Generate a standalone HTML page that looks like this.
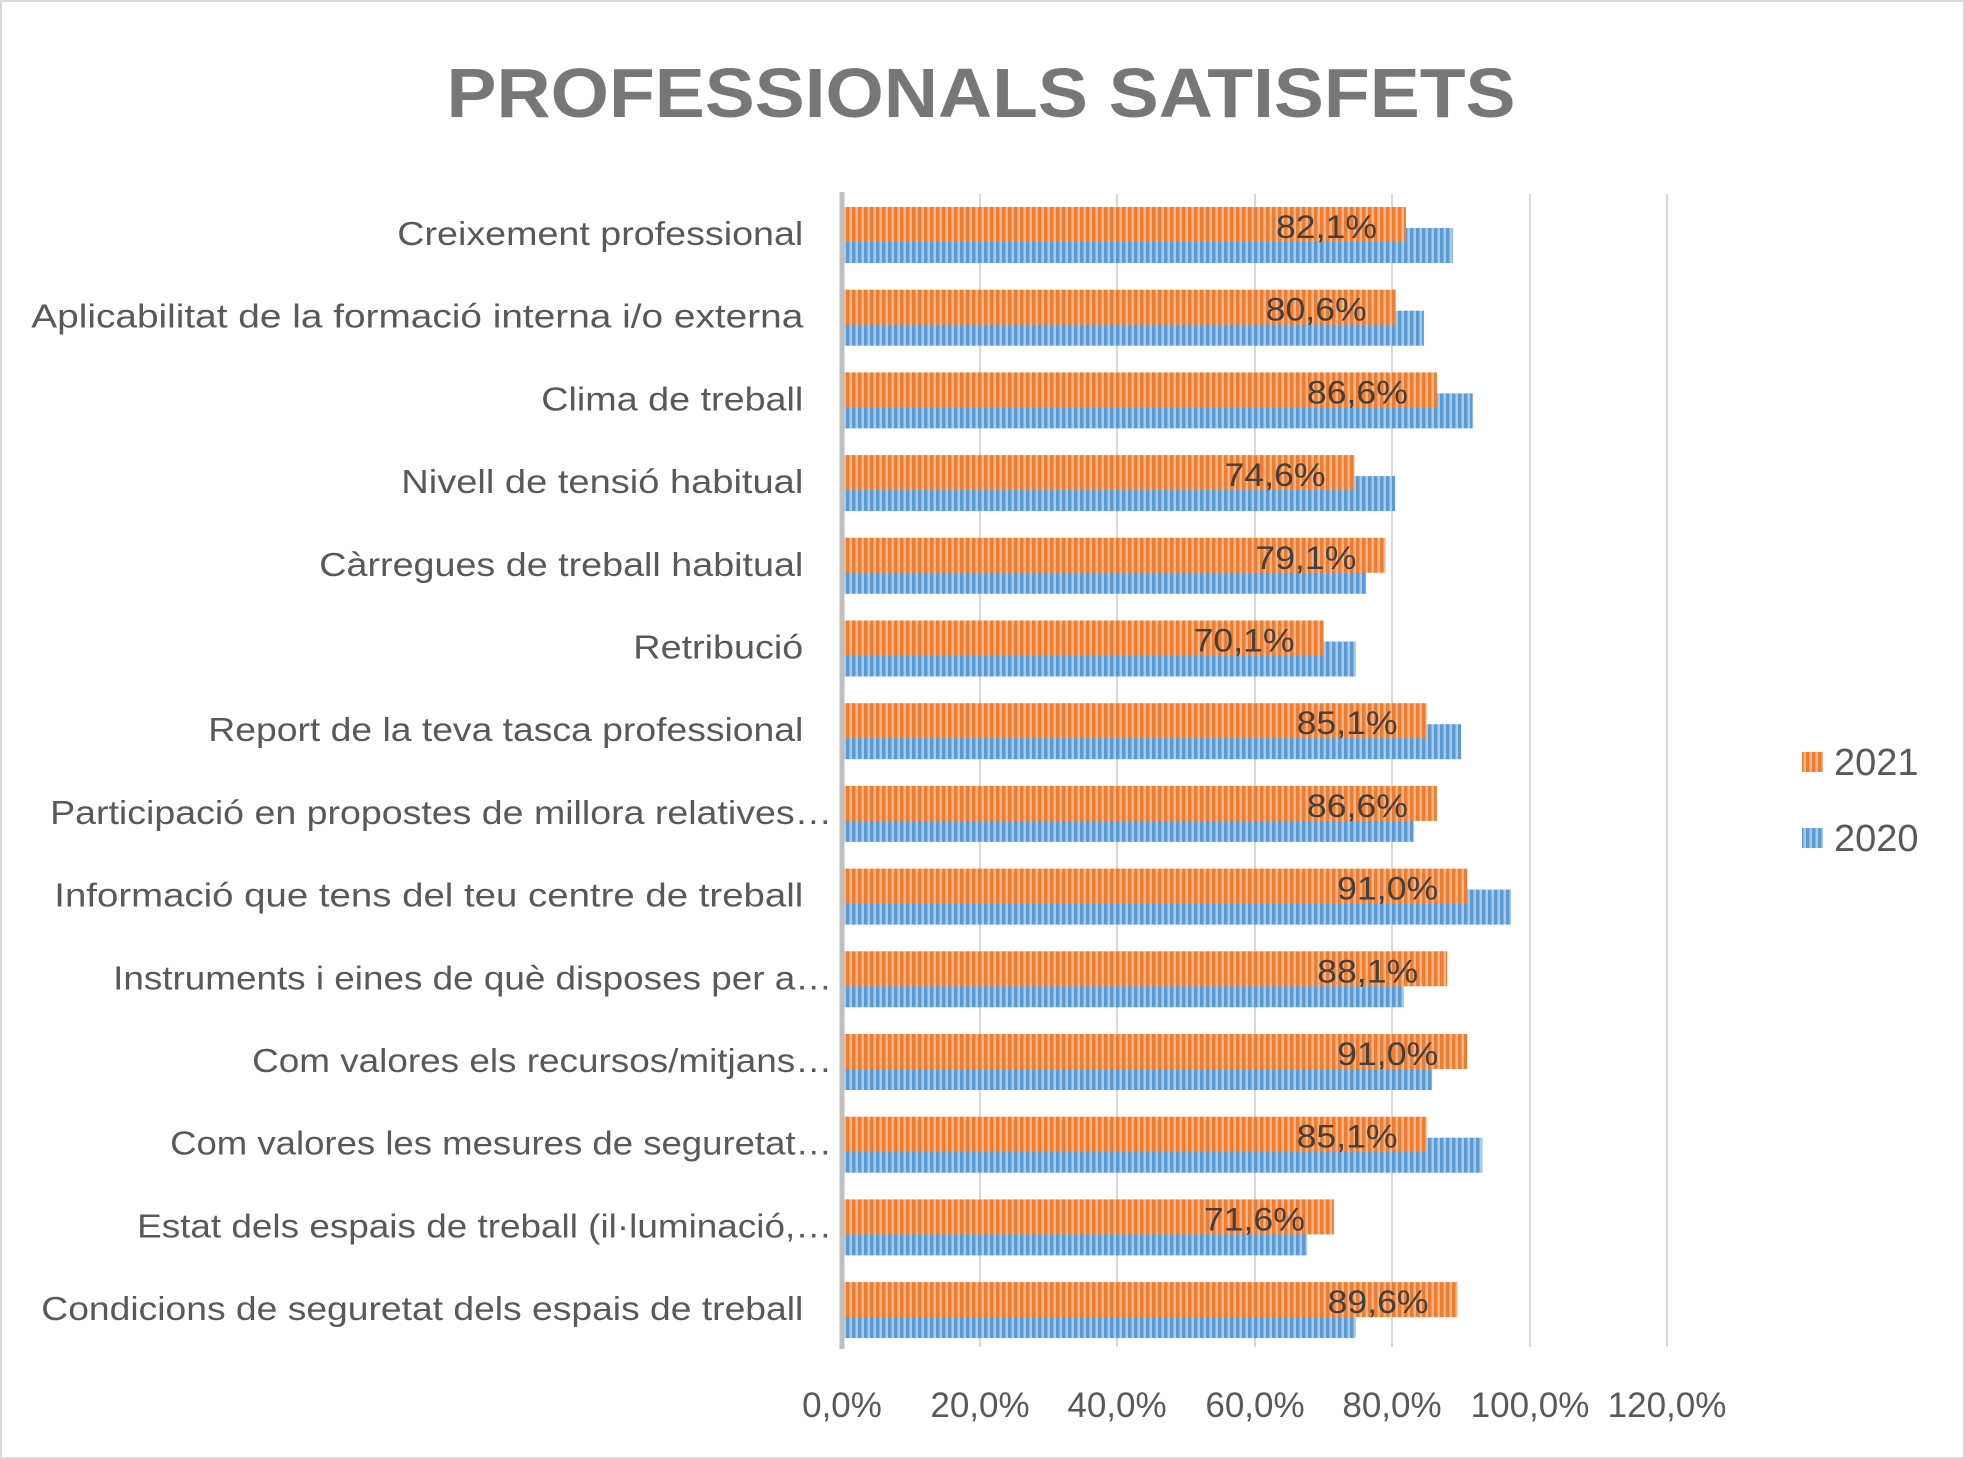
<!DOCTYPE html>
<html><head><meta charset="utf-8"><style>
html,body{margin:0;padding:0;background:#fff;}
svg{display:block;}
text{font-family:"Liberation Sans",sans-serif;fill:#595959;}
.v{font-size:32px;fill:#404040;text-anchor:end;}
.c{font-size:33px;text-anchor:end;}
</style></head><body>
<svg width="1965" height="1459" viewBox="0 0 1965 1459" xmlns="http://www.w3.org/2000/svg">
<defs>
<pattern id="po" width="6" height="10" patternUnits="userSpaceOnUse">
<rect width="6" height="10" fill="#f6b48a"/><rect width="3.5" height="10" fill="#ed7d31"/></pattern>
<pattern id="pb" width="6" height="10" patternUnits="userSpaceOnUse">
<rect width="6" height="10" fill="#a9cbea"/><rect width="3.5" height="10" fill="#5b9bd5"/></pattern>
</defs>
<rect x="1" y="1" width="1963" height="1457" fill="#fff" stroke="#d9d9d9" stroke-width="2"/>
<text x="981" y="117" font-size="70" font-weight="bold" text-anchor="middle" style="fill:#777" textLength="1069" lengthAdjust="spacingAndGlyphs">PROFESSIONALS SATISFETS</text>
<g stroke="#d9d9d9" stroke-width="2">
<line x1="980" y1="194" x2="980" y2="1347"/><line x1="1117" y1="194" x2="1117" y2="1347"/>
<line x1="1255" y1="194" x2="1255" y2="1347"/><line x1="1392" y1="194" x2="1392" y2="1347"/>
<line x1="1530" y1="194" x2="1530" y2="1347"/><line x1="1667" y1="194" x2="1667" y2="1347"/>
</g>
<g fill="url(#pb)">
<rect x="842" y="228" width="610.7" height="35"/>
<rect x="842" y="310.7" width="581.9" height="35"/>
<rect x="842" y="393.4" width="630.7" height="35"/>
<rect x="842" y="476.1" width="553.0" height="35"/>
<rect x="842" y="558.8" width="524.2" height="35"/>
<rect x="842" y="641.5" width="513.9" height="35"/>
<rect x="842" y="724.2" width="619.0" height="35"/>
<rect x="842" y="806.9" width="571.6" height="35"/>
<rect x="842" y="889.6" width="669.1" height="35"/>
<rect x="842" y="972.3" width="562.0" height="35"/>
<rect x="842" y="1055" width="590.1" height="35"/>
<rect x="842" y="1137.7" width="640.3" height="35"/>
<rect x="842" y="1220.4" width="465.1" height="35"/>
<rect x="842" y="1303.1" width="513.9" height="35"/>
</g>
<g fill="url(#po)">
<rect x="842" y="207" width="564.0" height="35"/>
<rect x="842" y="289.7" width="553.7" height="35"/>
<rect x="842" y="372.4" width="594.9" height="35"/>
<rect x="842" y="455.1" width="512.5" height="35"/>
<rect x="842" y="537.8" width="543.4" height="35"/>
<rect x="842" y="620.5" width="481.6" height="35"/>
<rect x="842" y="703.2" width="584.6" height="35"/>
<rect x="842" y="785.9" width="594.9" height="35"/>
<rect x="842" y="868.6" width="625.2" height="35"/>
<rect x="842" y="951.3" width="605.2" height="35"/>
<rect x="842" y="1034" width="625.2" height="35"/>
<rect x="842" y="1116.7" width="584.6" height="35"/>
<rect x="842" y="1199.4" width="491.9" height="35"/>
<rect x="842" y="1282.1" width="615.6" height="35"/>
</g>
<text class="v" x="1377" y="238" textLength="101" lengthAdjust="spacingAndGlyphs">82,1%</text>
<text class="v" x="1366.7" y="320.7" textLength="101" lengthAdjust="spacingAndGlyphs">80,6%</text>
<text class="v" x="1407.9" y="403.4" textLength="101" lengthAdjust="spacingAndGlyphs">86,6%</text>
<text class="v" x="1325.5" y="486.1" textLength="101" lengthAdjust="spacingAndGlyphs">74,6%</text>
<text class="v" x="1356.4" y="568.8" textLength="101" lengthAdjust="spacingAndGlyphs">79,1%</text>
<text class="v" x="1294.6" y="651.5" textLength="101" lengthAdjust="spacingAndGlyphs">70,1%</text>
<text class="v" x="1397.6" y="734.2" textLength="101" lengthAdjust="spacingAndGlyphs">85,1%</text>
<text class="v" x="1407.9" y="816.9" textLength="101" lengthAdjust="spacingAndGlyphs">86,6%</text>
<text class="v" x="1438.2" y="899.6" textLength="101" lengthAdjust="spacingAndGlyphs">91,0%</text>
<text class="v" x="1418.2" y="982.3" textLength="101" lengthAdjust="spacingAndGlyphs">88,1%</text>
<text class="v" x="1438.2" y="1065" textLength="101" lengthAdjust="spacingAndGlyphs">91,0%</text>
<text class="v" x="1397.6" y="1147.7" textLength="101" lengthAdjust="spacingAndGlyphs">85,1%</text>
<text class="v" x="1304.9" y="1230.4" textLength="101" lengthAdjust="spacingAndGlyphs">71,6%</text>
<text class="v" x="1428.6" y="1313.1" textLength="101" lengthAdjust="spacingAndGlyphs">89,6%</text>
<text class="c" x="803.3" y="245" textLength="406" lengthAdjust="spacingAndGlyphs">Creixement professional</text>
<text class="c" x="803.3" y="327.7" textLength="772" lengthAdjust="spacingAndGlyphs">Aplicabilitat de la formació interna i/o externa</text>
<text class="c" x="803.3" y="410.4" textLength="262" lengthAdjust="spacingAndGlyphs">Clima de treball</text>
<text class="c" x="803.3" y="493.1" textLength="402" lengthAdjust="spacingAndGlyphs">Nivell de tensió habitual</text>
<text class="c" x="803.3" y="575.8" textLength="484" lengthAdjust="spacingAndGlyphs">Càrregues de treball habitual</text>
<text class="c" x="803.3" y="658.5" textLength="170" lengthAdjust="spacingAndGlyphs">Retribució</text>
<text class="c" x="803.3" y="741.2" textLength="595" lengthAdjust="spacingAndGlyphs">Report de la teva tasca professional</text>
<text class="c" x="832.1" y="823.9" textLength="782" lengthAdjust="spacingAndGlyphs">Participació en propostes de millora relatives…</text>
<text class="c" x="803.3" y="906.6" textLength="749" lengthAdjust="spacingAndGlyphs">Informació que tens del teu centre de treball</text>
<text class="c" x="832.1" y="989.3" textLength="719" lengthAdjust="spacingAndGlyphs">Instruments i eines de què disposes per a…</text>
<text class="c" x="832.1" y="1072" textLength="580" lengthAdjust="spacingAndGlyphs">Com valores els recursos/mitjans…</text>
<text class="c" x="832.1" y="1154.7" textLength="662" lengthAdjust="spacingAndGlyphs">Com valores les mesures de seguretat…</text>
<text class="c" x="832.1" y="1237.4" textLength="695" lengthAdjust="spacingAndGlyphs">Estat dels espais de treball (il·luminació,…</text>
<text class="c" x="803.3" y="1320.1" textLength="762" lengthAdjust="spacingAndGlyphs">Condicions de seguretat dels espais de treball</text>
<line x1="842" y1="192" x2="842" y2="1349" stroke="#bfbfbf" stroke-width="5"/>
<g font-size="35" text-anchor="middle">
<text x="842" y="1417">0,0%</text><text x="980" y="1417">20,0%</text><text x="1117" y="1417">40,0%</text>
<text x="1255" y="1417">60,0%</text><text x="1392" y="1417">80,0%</text><text x="1530" y="1417">100,0%</text><text x="1667" y="1417">120,0%</text>
</g>
<rect x="1802" y="752" width="21" height="20" fill="url(#po)"/>
<text x="1834" y="775" font-size="38">2021</text>
<rect x="1802" y="828" width="21" height="20" fill="url(#pb)"/>
<text x="1834" y="851" font-size="38">2020</text>
</svg>
</body></html>
